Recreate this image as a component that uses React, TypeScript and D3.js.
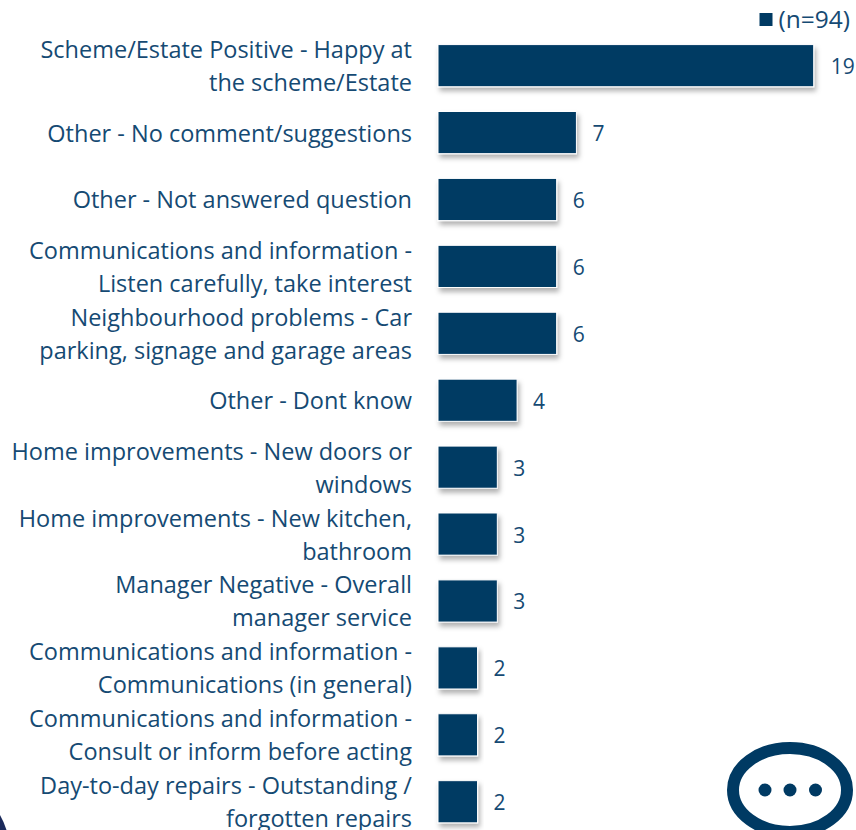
import React from "react";
import * as d3 from "d3";

const categories: string[][] = [
  ["Scheme/Estate Positive - Happy at", "the scheme/Estate"],
  ["Other - No comment/suggestions"],
  ["Other - Not answered question"],
  ["Communications and information -", "Listen carefully, take interest"],
  ["Neighbourhood problems - Car", "parking, signage and garage areas"],
  ["Other - Dont know"],
  ["Home improvements - New doors or", "windows"],
  ["Home improvements - New kitchen,", "bathroom"],
  ["Manager Negative - Overall", "manager service"],
  ["Communications and information -", "Communications (in general)"],
  ["Communications and information -", "Consult or inform before acting"],
  ["Day-to-day repairs - Outstanding /", "forgotten repairs"],
];
const values = [19, 7, 6, 6, 6, 4, 3, 3, 3, 2, 2, 2];
const legendLabel = "(n=94)";

const NAVY = "#003A63";
const TEXT = "#154A73";
const FONT = "'Open Sans', sans-serif";

export default function App() {
  const x = d3.scaleLinear().domain([0, 19]).range([438, 813.7]);
  const y = d3
    .scaleBand<number>()
    .domain(values.map((_, i) => i))
    .range([32.2, 835.2])
    .paddingInner(0.37)
    .paddingOuter(0.185);
  return (
    <svg
      width={856}
      height={830}
      viewBox="0 0 856 830"
      style={{ position: "absolute", left: 0, top: 0, background: "#fff" }}
      fontFamily={FONT}
    >
      <defs>
        <filter id="barShadow" x="-10%" y="-20%" width="125%" height="160%">
          <feDropShadow dx="2" dy="4" stdDeviation="2.5" floodColor="#000" floodOpacity="0.3" />
        </filter>
      </defs>
      <rect x={759.5} y={13} width={13} height={13} fill={NAVY} />
      <text x={850} y={28} textAnchor="end" fontSize={24.5} fill={TEXT}>
        {legendLabel}
      </text>
      {values.map((v, i) => {
        const by = y(i)!;
        const bh = y.bandwidth();
        const cy = by + bh / 2;
        const lines = categories[i];
        const lh = 33;
        return (
          <g key={i}>
            <rect
              x={x(0)}
              y={by}
              width={x(v) - x(0)}
              height={bh}
              fill={NAVY}
              stroke="#fff"
              strokeWidth={1}
              filter="url(#barShadow)"
            />
            <text
              x={x(v) + 22}
              y={cy + 8.5}
              textAnchor="middle"
              dx={v === 19 ? 7 : 0}
              fontSize={21}
              fill={TEXT}
            >
              {v}
            </text>
            {lines.map((l, j) => (
              <text
                key={j}
                x={412}
                y={cy + 9 + (j - (lines.length - 1) / 2) * lh}
                textAnchor="end"
                fontSize={23.5}
                fill={TEXT}
              >
                {l}
              </text>
            ))}
          </g>
        );
      })}
      {/* speech bubble icon */}
      <g>
        <ellipse cx={790} cy={790} rx={57} ry={42} fill="none" stroke={NAVY} strokeWidth={12} />
        {[-25, 0, 25.5].map((d) => (
          <circle key={d} cx={790 + d} cy={790} r={6.5} fill={NAVY} />
        ))}
      </g>
      {/* corner arc */}
      <path d="M0 815 Q4 822 6.5 830 L0 830 Z" fill="#1B2A5B" />
    </svg>
  );
}
